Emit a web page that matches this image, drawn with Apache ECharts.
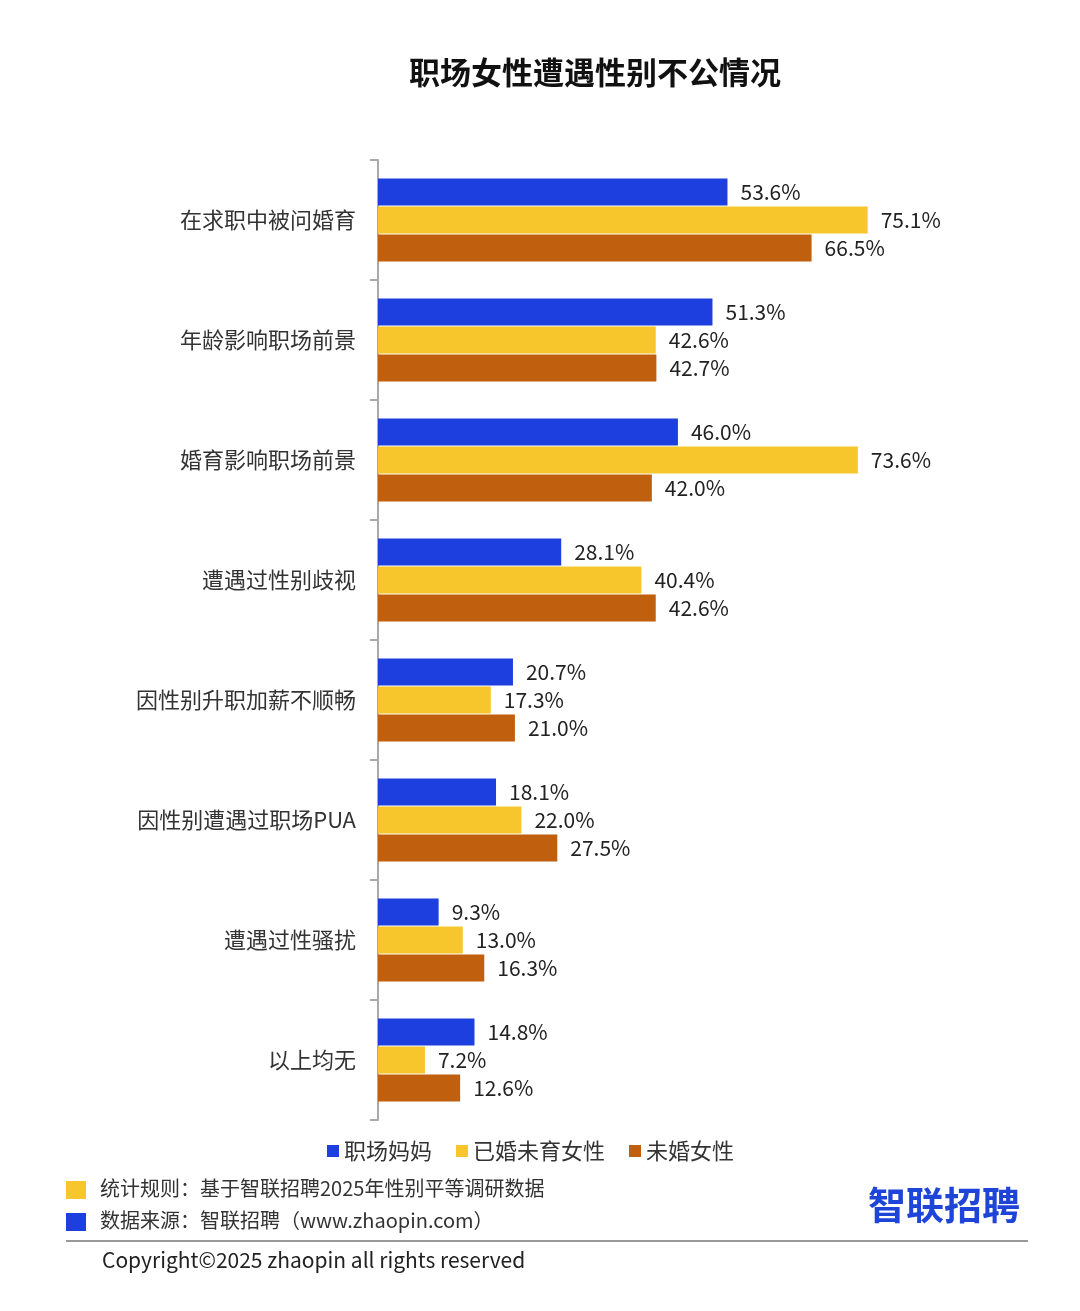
<!DOCTYPE html>
<html><head><meta charset="utf-8">
<script src="https://cdn.jsdelivr.net/npm/echarts@6/dist/echarts.min.js"></script>
<style>html,body{margin:0;padding:0;background:#fff}#c{width:1080px;height:1311px}</style>
</head><body><div id="c"></div>
<script>
const categories = ['在求职中被问婚育','年龄影响职场前景','婚育影响职场前景','遭遇过性别歧视','因性别升职加薪不顺畅','因性别遭遇过职场PUA','遭遇过性骚扰','以上均无'];
const seriesNames = ['职场妈妈','已婚未育女性','未婚女性'];
const moms = [53.6,51.3,46.0,28.1,20.7,18.1,9.3,14.8];
const marriedNoKids = [75.1,42.6,73.6,40.4,17.3,22.0,13.0,7.2];
const unmarried = [66.5,42.7,42.0,42.6,21.0,27.5,16.3,12.6];
const colors = ['#1e3fe0','#f6c62c','#c0600f'];
const font = '"Noto Sans CJK SC", sans-serif';
const chart = echarts.init(document.getElementById('c'));
const mk = (name, data, i) => ({
  name, type:'bar', data, barWidth:27, barGap:'4%',
  itemStyle:{color:colors[i]},
  label:{show:true, position:'right', distance:13, formatter: p => p.value.toFixed(1)+'%', color:'#222', fontSize:21, fontFamily:font}
});
chart.setOption({
  animation:false,
  textStyle:{fontFamily:font},
  title:{text:'职场女性遭遇性别不公情况', left:590, top:52, textAlign:'center', textStyle:{fontSize:31, fontWeight:'bold', color:'#111', fontFamily:font}},
  legend:{data:seriesNames, top:1135, left:322, itemWidth:12, itemHeight:12, itemGap:24, icon:'rect', textStyle:{fontSize:22, color:'#333', fontFamily:font}},
  grid:{left:378, right:50, top:160, bottom:191},
  xAxis:{type:'value', min:0, max:100, show:false},
  yAxis:{type:'category', data:categories, inverse:true,
    axisLine:{lineStyle:{color:'#aaa', width:2}},
    axisTick:{show:true, length:8, lineStyle:{color:'#aaa', width:2}},
    axisLabel:{fontSize:22, color:'#333', margin:22, fontFamily:font}},
  series:[mk(seriesNames[0],moms,0), mk(seriesNames[1],marriedNoKids,1), mk(seriesNames[2],unmarried,2)],
  graphic:[
    {type:'rect', shape:{x:66,y:1181,width:20,height:18}, style:{fill:'#f6c62c'}},
    {type:'text', x:100, y:1178, style:{text:'统计规则：基于智联招聘2025年性别平等调研数据', fontSize:20, fill:'#333', fontFamily:font}},
    {type:'rect', shape:{x:66,y:1213,width:20,height:18}, style:{fill:'#1e3fe0'}},
    {type:'text', x:100, y:1210, style:{text:'数据来源：智联招聘（www.zhaopin.com）', fontSize:20, fill:'#333', fontFamily:font}},
    {type:'text', x:868, y:1186, style:{text:'智联招聘', fontSize:38, fontWeight:'bold', fill:'#1f45d8', fontFamily:font}},
    {type:'rect', shape:{x:66,y:1240,width:962,height:2}, style:{fill:'#999'}},
    {type:'text', x:102, y:1250, style:{text:'Copyright©2025 zhaopin all rights reserved', fontSize:21, fill:'#222', fontFamily:font}}
  ]
});
</script></body></html>
